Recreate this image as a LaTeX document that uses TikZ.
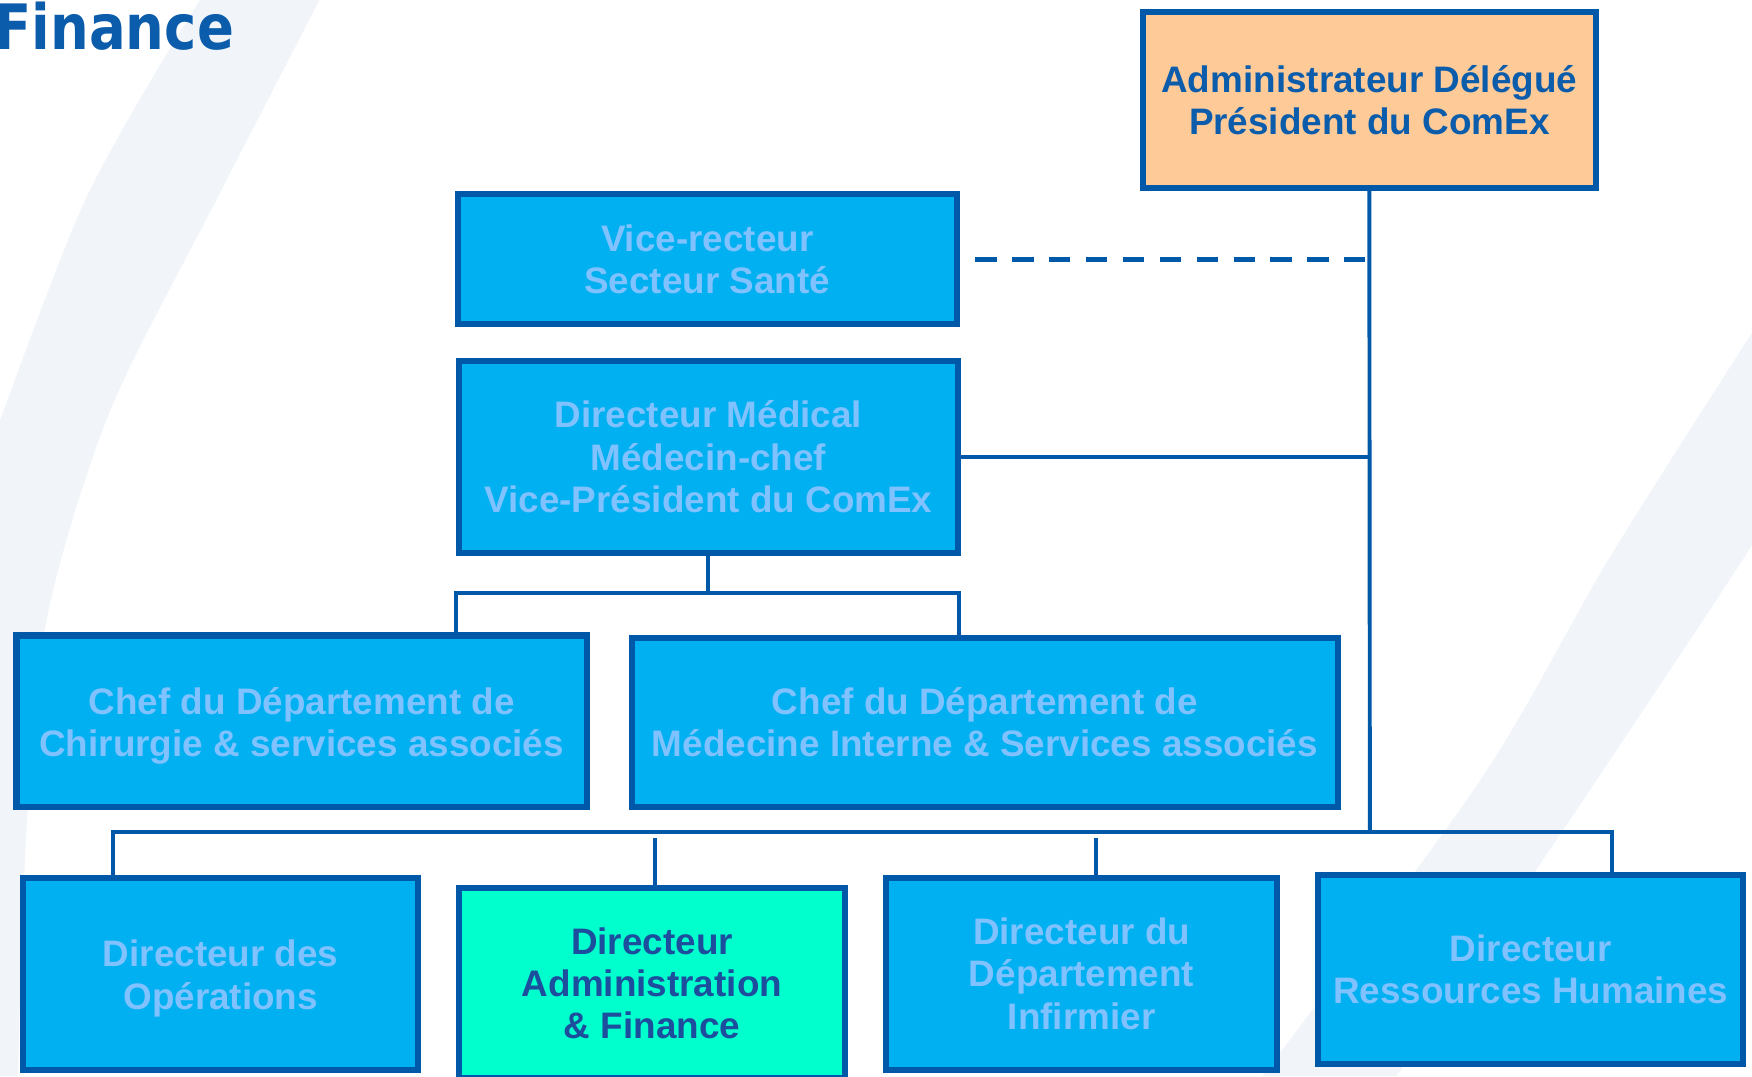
\documentclass[tikz,border=0pt]{standalone}
\usepackage{fontspec}
\setmainfont{Liberation Sans}
\newfontfamily\titlefont{DejaVu Sans}
\definecolor{edgeblue}{HTML}{0059A8}
\definecolor{boxblue}{HTML}{00B0F0}
\definecolor{lighttext}{HTML}{80C2FF}
\definecolor{peach}{HTML}{FECB98}
\definecolor{aqua}{HTML}{00FFCC}
\definecolor{navytext}{HTML}{1D4E9E}
\definecolor{titleblue}{HTML}{0B5CAB}
\definecolor{bandcol}{HTML}{F1F5FA}
\begin{document}
\begin{tikzpicture}[x=1bp,y=-1bp,
  box/.style={draw=edgeblue, line width=5.5bp, fill=boxblue, text=lighttext,
    font=\bfseries\fontsize{33bp}{38bp}\selectfont, align=center, inner sep=0pt, anchor=center},
  boxtext/.style={text=lighttext, font=\bfseries\fontsize{33bp}{38bp}\selectfont,
    align=center, inner sep=0pt, yshift=-4bp},
  conn/.style={draw=edgeblue, line width=3.5bp},
  dashconn/.style={draw=edgeblue, line width=4.5bp, dash pattern=on 19bp off 14bp}]
\useasboundingbox (0,0) rectangle (1568,963);
\clip (0,0) rectangle (1568,963);
\fill[white] (0,0) rectangle (1568,963);
% background bands
\fill[bandcol] plot[smooth] coordinates {(179,0) (74,184) (-30,460)} -- (-30,963)
  -- plot[smooth] coordinates {(16,963) (24,737) (42,553) (98,369) (191,184) (286,0)} -- cycle;
\fill[bandcol] plot[smooth] coordinates {(1620,220) (1566,301) (1440,500) (1325,698) (1130,963)}
  -- plot[smooth] coordinates {(1250,963) (1429,698) (1566,491) (1620,400)} -- cycle;
% title
\node[anchor=base west, text=titleblue, font=\titlefont\bfseries\fontsize{56bp}{60bp}\selectfont,
  xscale=0.87, inner sep=0pt] (title) at (-5,44) {Finance};
% boxes
\node[box, fill=peach, text=titleblue, minimum width=405.5bp, minimum height=157.5bp] (admin) at (1225.5,89.5)
  {Administrateur Délégué\\Président du ComEx};
\node[box, minimum width=446.5bp, minimum height=116.5bp] (vice) at (633,232)
  {Vice-recteur\\Secteur Santé};
\node[box, minimum width=446.5bp, minimum height=172.5bp] (med) at (634,409)
  {Directeur Médical\\Médecin-chef\\Vice-Président du ComEx};
\node[box, minimum width=510.5bp, minimum height=153.5bp,
  label={[boxtext]center:{Chef du Département de\\Chirurgie \& services associés}}] (chir) at (270,645.5) {};
\node[box, minimum width=631.5bp, minimum height=151.5bp] (medint) at (881.5,646.5)
  {Chef du Département de\\Médecine Interne \& Services associés};
\node[box, minimum width=353.5bp, minimum height=171.5bp,
  label={[boxtext]center:{Directeur des\\Opérations}}] (ops) at (197.5,871.5) {};
\node[box, fill=aqua, text=navytext, minimum width=345.5bp, minimum height=170.5bp] (af) at (583.5,880)
  {Directeur\\Administration\\\& Finance};
\node[box, minimum width=350.5bp, minimum height=171.5bp] (inf) at (968,871.5)
  {Directeur du\\Département\\Infirmier};
\node[box, minimum width=380.5bp, minimum height=169.5bp] (rh) at (1370,867.5)
  {Directeur\\Ressources Humaines};
% connector points
\coordinate (bus) at (1226,745);
\coordinate (busL) at (101,745);
\coordinate (busR) at (1443,745);
\coordinate (j1) at (634,531);
\coordinate (jL) at (408,531);
\coordinate (jR) at (858,531);
\coordinate (d2) at (586,750);
\coordinate (d3) at (981,750);
% connectors
\draw[conn] (admin.south) -- (bus);
\draw[dashconn] ([xshift=14bp]vice.east) -- (vice.east -| admin.south);
\draw[conn] (med.east) -- (med.east -| admin.south);
\draw[conn] (med.south) -- (j1);
\draw[conn] (jL |- chir.north) -- (jL) -- (jR) -- (jR |- medint.north);
\draw[conn] (busL |- ops.north) -- (busL) -- (busR) -- (busR |- rh.north);
\draw[conn] (d2) -- (d2 |- af.north);
\draw[conn] (d3) -- (d3 |- inf.north);
\end{tikzpicture}
\end{document}
